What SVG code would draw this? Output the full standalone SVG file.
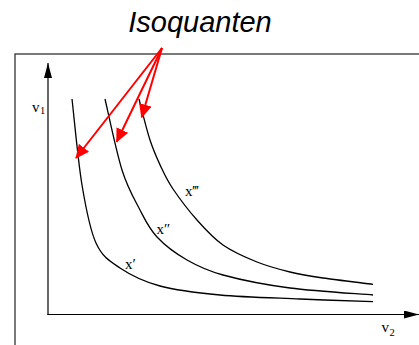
<svg xmlns="http://www.w3.org/2000/svg" width="419" height="345" viewBox="0 0 419 345">
<style>
.frame{fill:none;stroke:#333;stroke-width:1.3}
.axis{fill:none;stroke:#000;stroke-width:1.2}
.curve{fill:none;stroke:#000;stroke-width:1.3}
.red{fill:none;stroke:#f00;stroke-width:2}
.lbl{font-family:"Liberation Serif","Times New Roman",serif;font-size:15px;fill:#000}
.sub{font-family:"Liberation Serif","Times New Roman",serif;font-size:10.5px;fill:#000}
.title{font-family:"Liberation Sans",Arial,sans-serif;font-style:italic;font-size:29px;fill:#000}
</style>
<defs>
<marker id="ah" markerUnits="userSpaceOnUse" viewBox="0 0 15 8" refX="15" refY="4" markerWidth="15" markerHeight="8" orient="auto">
<path d="M0,0 L15,4 L0,8 z" fill="#000"/>
</marker>
<marker id="rh" markerUnits="userSpaceOnUse" viewBox="0 0 14 13" refX="13" refY="6.5" markerWidth="14" markerHeight="13" orient="auto">
<path d="M0,0 L14,6.5 L0,13 z" fill="#f00"/>
</marker>
</defs>
<rect class="frame" x="15" y="54" width="420" height="300"/>
<g id="title"><text class="title" x="200" y="31.7" text-anchor="middle">Isoquanten</text></g>
<g id="axes">
<line class="axis" x1="48" y1="315" x2="48" y2="63" marker-end="url(#ah)"/>
<line class="axis" x1="47.4" y1="314.5" x2="419" y2="314.5" marker-end="url(#ah)"/>
<text class="lbl" x="32" y="112">v</text><text class="sub" x="40" y="113.5">1</text>
<text class="lbl" x="381.5" y="332.3">v</text><text class="sub" x="389.5" y="335.7">2</text>
</g>
<g id="isoquant1">
<path class="curve" d="M72,99 C73.7,113.3 78,161 82,185 C86,209 89.7,229.2 96,243 C102.3,256.8 109.3,260.8 120,268 C130.7,275.2 143.3,281.5 160,286 C176.7,290.5 196.7,292.8 220,295 C243.3,297.2 274.5,297.9 300,299 C325.5,300.1 360.8,301.25 373,301.7"/>
<text class="lbl" x="125" y="269">x′</text>
</g>
<g id="isoquant2">
<path class="curve" d="M105,99 C107.8,110.8 116.2,151.5 122,170 C127.8,188.5 134.2,198.8 140,210 C145.8,221.2 149.2,228.7 157,237 C164.8,245.3 176,253.7 187,260 C198,266.3 205.8,270.3 223,275 C240.2,279.7 265,284.7 290,288 C315,291.3 359.2,293.8 373,295"/>
<text class="lbl" x="156.5" y="234">x″</text>
</g>
<g id="isoquant3">
<path class="curve" d="M139,99 C140.8,105.8 146.3,128.7 150,140 C153.7,151.3 157.2,158.8 161,167 C164.8,175.2 167,180.2 173,189 C179,197.8 188.7,210.7 197,220 C205.3,229.3 213,238 223,245 C233,252 245.8,257.5 257,262 C268.2,266.5 279,269.3 290,272 C301,274.7 309.2,276 323,278 C336.8,280 364.7,283.2 373,284.3"/>
<text class="lbl" x="185" y="196">x‴</text>
</g>
<g id="connectors">
<line class="red" x1="162" y1="48" x2="76" y2="158" marker-end="url(#rh)"/>
<line class="red" x1="162" y1="48" x2="116.7" y2="141.7" marker-end="url(#rh)"/>
<line class="red" x1="162" y1="48" x2="141.7" y2="117.3" marker-end="url(#rh)"/>
</g>
</svg>
